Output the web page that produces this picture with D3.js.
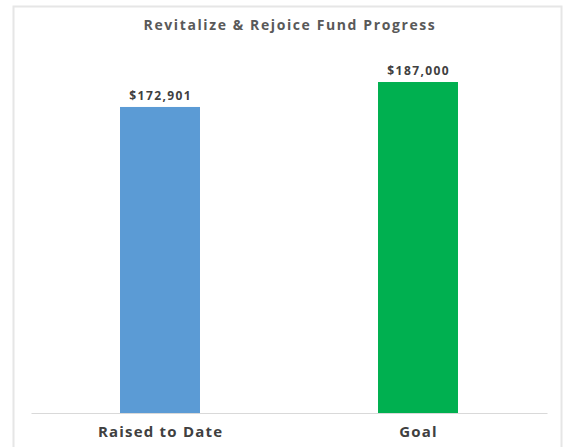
<!DOCTYPE html>
<html><head><meta charset="utf-8">
<script src="https://cdn.jsdelivr.net/npm/d3@7"></script>
<style>body{margin:0;background:#fff;} text{font-family:"Open Sans",sans-serif;font-weight:bold;}</style>
</head><body><svg id="c" width="564" height="447"></svg>
<script>
const categories = ["Raised to Date", "Goal"];
const values = [172901, 187000];
const colors = ["#5B9BD5", "#00B050"];
const title = "Revitalize & Rejoice Fund Progress";

const svg = d3.select("#c");
svg.append("rect").attr("x", 13.5).attr("y", 6.5).attr("width", 548).attr("height", 450)
  .attr("fill", "#fff").attr("stroke", "#e6e6e6").attr("stroke-width", 2);

const x = d3.scaleBand().domain(categories).range([31, 547]).paddingInner(0.69).paddingOuter(0.345);
const y = d3.scaleLinear().domain([0, 200000]).range([413, 59]);

svg.append("text").attr("x", 290).attr("y", 30).attr("text-anchor", "middle")
  .attr("font-size", 14).attr("letter-spacing", 1.6).attr("fill", "#595959").text(title);

svg.selectAll(".bar").data(values).join("rect").attr("class", "bar")
  .attr("x", (d, i) => x(categories[i])).attr("width", x.bandwidth())
  .attr("y", d => y(d)).attr("height", d => y(0) - y(d))
  .attr("fill", (d, i) => colors[i]);

svg.append("g").attr("transform", "translate(0,413)")
  .call(d3.axisBottom(x).tickSize(0).tickPadding(13))
  .call(g => g.select(".domain").attr("stroke", "#d9d9d9"))
  .call(g => g.selectAll("text").attr("font-size", 15).attr("letter-spacing", 1.2).attr("dx", 0.6)
    .attr("fill", "#404040").attr("font-family", "Open Sans").attr("font-weight", "bold"));

const fmt = d3.format("$,");
svg.selectAll(".lbl").data(values).join("text").attr("class", "lbl")
  .attr("x", (d, i) => x(categories[i]) + x.bandwidth() / 2 + 0.7).attr("y", d => y(d) - 7)
  .attr("text-anchor", "middle").attr("font-size", 12).attr("letter-spacing", 1.4)
  .attr("fill", "#404040").text(d => fmt(d));
</script></body></html>
